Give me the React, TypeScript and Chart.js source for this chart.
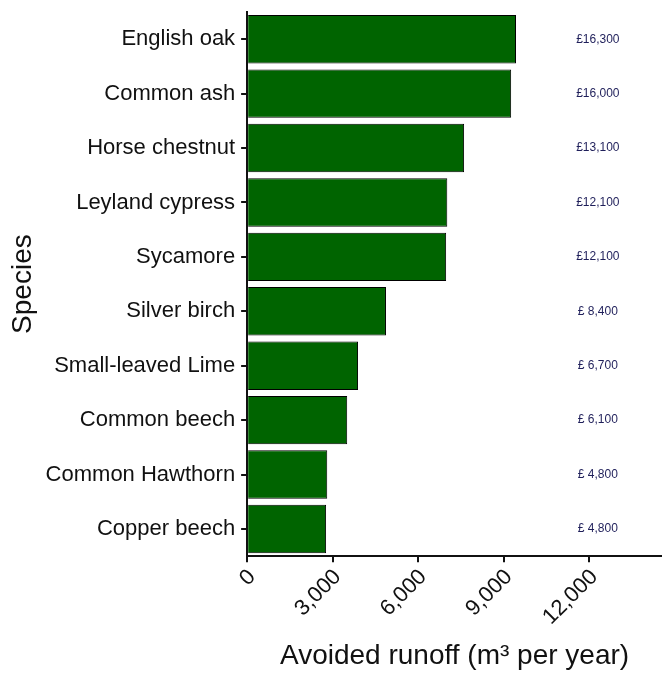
import React, { useEffect, useRef } from "react";
import { Chart, registerables } from "chart.js";

Chart.register(...registerables);

const species = [
  "English oak",
  "Common ash",
  "Horse chestnut",
  "Leyland cypress",
  "Sycamore",
  "Silver birch",
  "Small-leaved Lime",
  "Common beech",
  "Common Hawthorn",
  "Copper beech",
];
const runoff = [9430, 9260, 7610, 7020, 6980, 4870, 3890, 3510, 2810, 2770];
const values = ["£16,300", "£16,000", "£13,100", "£12,100", "£12,100", "£ 8,400", "£ 6,700", "£ 6,100", "£ 4,800", "£ 4,800"];
const xTicks = [0, 3000, 6000, 9000, 12000];
const labelPosition = 12300;

const FONT = "'Liberation Sans', Arial, sans-serif";

const valueLabels = {
  id: "valueLabels",
  afterDatasetsDraw(chart: any) {
    const { ctx, scales } = chart;
    ctx.save();
    ctx.fillStyle = "#1f1f5a";
    ctx.font = "12px " + FONT;
    ctx.textAlign = "center";
    ctx.textBaseline = "middle";
    species.forEach((_, i) => {
      ctx.fillText(values[i], scales.x.getPixelForValue(labelPosition), scales.y.getPixelForValue(i));
    });
    ctx.restore();
  },
};

export default function App() {
  const ref = useRef<HTMLCanvasElement>(null);
  useEffect(() => {
    document.body.style.margin = "0";
    const chart = new Chart(ref.current!, {
      type: "bar",
      data: {
        labels: species,
        datasets: [
          {
            data: runoff,
            backgroundColor: "#006400",
            borderColor: "#000000",
            borderWidth: 1,
            barPercentage: 0.89,
            categoryPercentage: 1.0,
          },
        ],
      },
      options: {
        indexAxis: "y",
        animation: false,
        responsive: false,
        layout: { padding: { top: 12, right: 0, bottom: 0, left: 0 } },
        plugins: { legend: { display: false }, tooltip: { enabled: false } },
        scales: {
          x: {
            min: 0,
            max: 14550,
            afterBuildTicks: (scale: any) => {
              scale.ticks = xTicks.map((v) => ({ value: v }));
            },
            ticks: {
              minRotation: 45,
              maxRotation: 45,
              labelOffset: 5,
              color: "#111",
              font: { size: 22, family: FONT },
              padding: 2,
              callback: (v: any) => Number(v).toLocaleString("en-GB"),
            },
            grid: { display: true, drawOnChartArea: false, drawTicks: true, tickLength: 6, color: "#111", lineWidth: 2 },
            border: { display: true, color: "#111", width: 2 },
            title: {
              display: true,
              text: "Avoided runoff (m³ per year)",
              color: "#111",
              font: { size: 28, family: FONT },
              padding: { top: 7, bottom: 0 },
            },
          },
          y: {
            afterFit: (scale: any) => {
              scale.paddingTop = 0;
              scale.paddingBottom = 0;
            },
            ticks: {
              color: "#111",
              font: { size: 22, family: FONT },
              padding: 6,
            },
            grid: { display: true, offset: false, drawOnChartArea: false, drawTicks: true, tickLength: 6, color: "#111", lineWidth: 2 },
            border: { display: true, color: "#111", width: 2 },
            title: {
              display: true,
              text: "Species",
              color: "#111",
              font: { size: 28, family: FONT },
              padding: { top: 6, bottom: 0 },
            },
          },
        },
      },
      plugins: [valueLabels],
    });
    return () => chart.destroy();
  }, []);
  return <canvas ref={ref} width={662} height={673} style={{ display: "block" }} />;
}
